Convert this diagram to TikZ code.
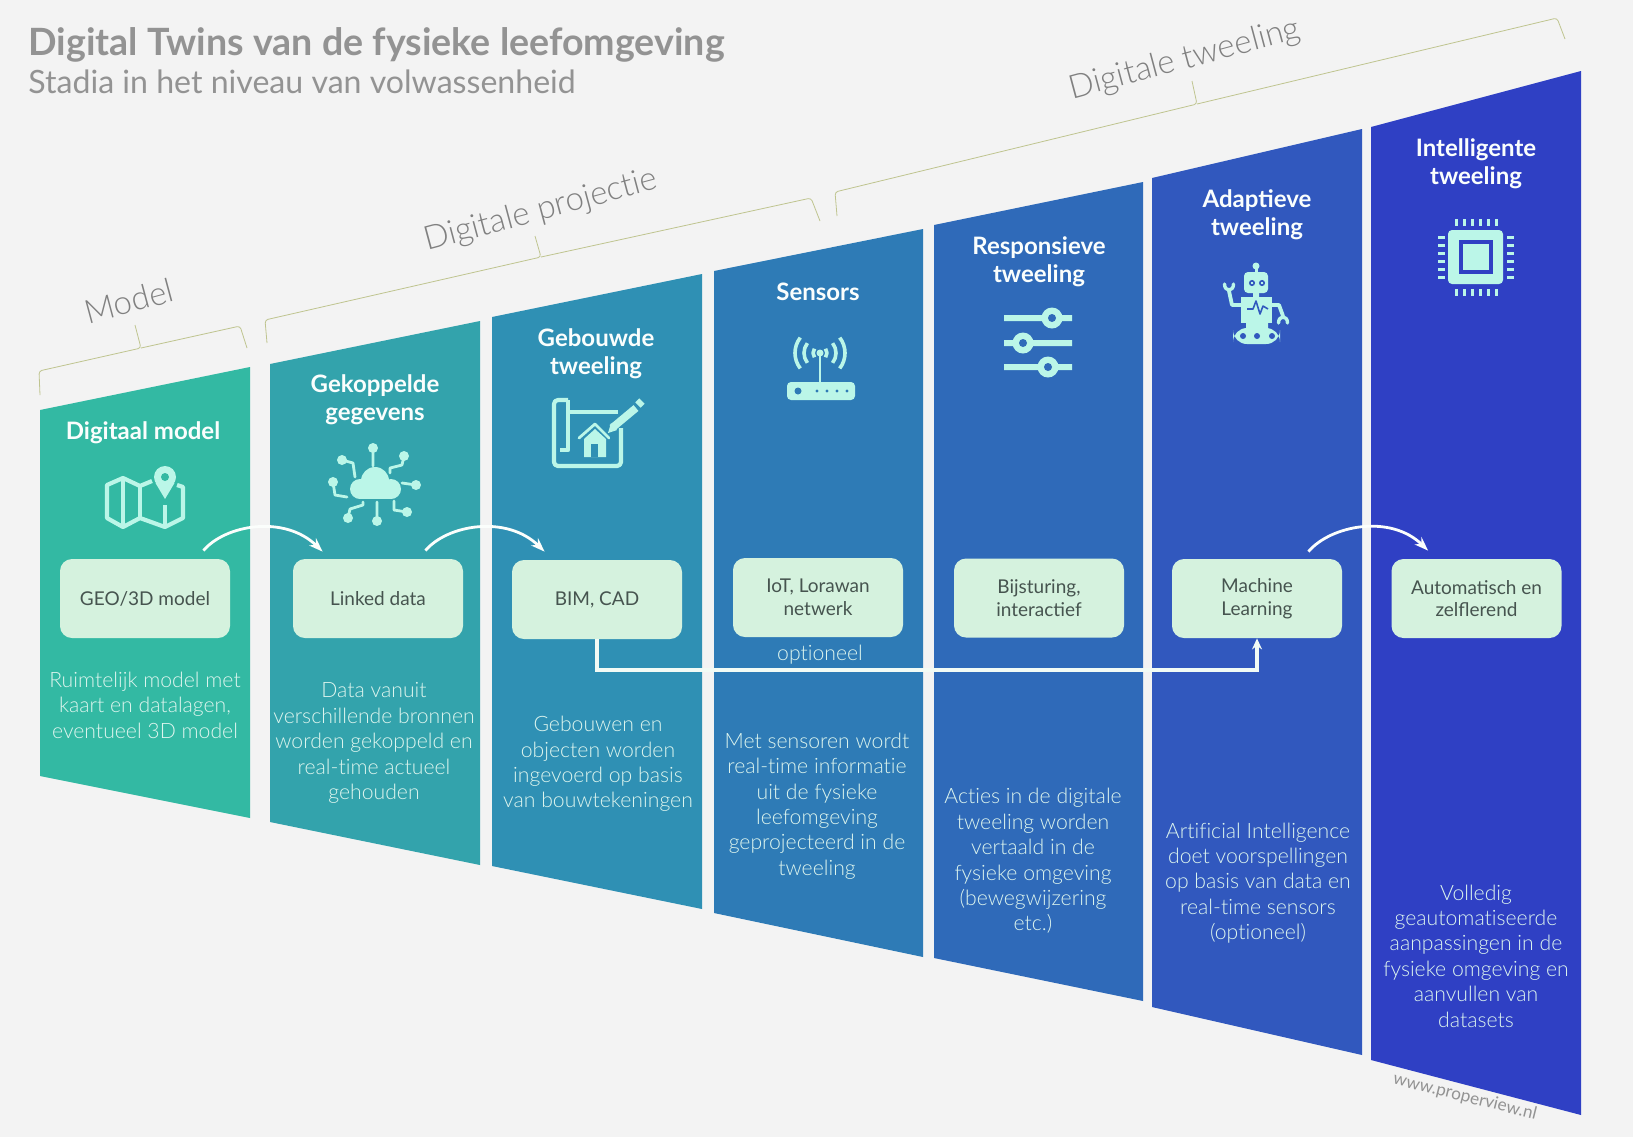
\documentclass[tikz,border=0pt]{standalone}
\usepackage{fontspec}
\setmainfont{Lato}
\newfontfamily\latolight{Lato Light}[Ligatures=NoCommon]
\usepackage{xcolor}
\definecolor{paper}{HTML}{F3F3F3}
\definecolor{twina}{HTML}{33B9A3}
\definecolor{twinb}{HTML}{33A3AC}
\definecolor{twinc}{HTML}{2F90B4}
\definecolor{twind}{HTML}{2E7BB6}
\definecolor{twine}{HTML}{2F6AB9}
\definecolor{twinf}{HTML}{3158BE}
\definecolor{twing}{HTML}{2F40C4}
\definecolor{boxmint}{HTML}{D5F2DE}
\definecolor{iconmint}{HTML}{BBF6E8}
\definecolor{bodytext}{HTML}{DDF5EE}
\definecolor{boxtext}{HTML}{46544F}
\definecolor{headgray}{HTML}{939393}
\definecolor{bracketline}{HTML}{BFC48F}
\usetikzlibrary{arrows.meta,positioning,calc}

\begin{document}
\begin{tikzpicture}[
        x=0.5pt, y=-0.5pt,
        stage/.style  = {font=\fontsize{12}{14}\selectfont\bfseries, text=white!92!iconmint, align=center, inner sep=0pt},
        tool/.style   = {fill=boxmint, rounded corners=6pt, minimum width=85pt, minimum height=39.5pt,
                         align=center, inner sep=0pt, text=boxtext, font=\fontsize{9.5}{11.3}\selectfont},
        blurb/.style  = {font=\latolight\fontsize{10.6}{12.7}\selectfont, text=bodytext, align=center, inner sep=0pt},
        phase/.style  = {font=\latolight\fontsize{16.5}{18}\selectfont, text=black!50, rotate=15, inner sep=0pt},
        bracket/.style = {draw=bracketline, line width=0.4pt, rounded corners=1.5pt},
        hop/.style    = {-{Stealth[length=7pt,width=5pt]}, draw=white!90!boxmint, line width=1.4pt},
        optlink/.style = {-{Stealth[length=5.5pt,width=5pt]}, draw=white!70!boxmint, line width=1.7pt},
        iconline/.style = {draw=iconmint, line width=2.1pt, line join=round},
        iconthin/.style = {draw=iconmint, line width=1.4pt, line cap=round, line join=round}
    ]
        \useasboundingbox (0,0) rectangle (1633,1137);
        \fill[paper] (0,0) rectangle (1633,1137);

        % ---- Title ----
        \node[anchor=base west, inner sep=0pt, text=headgray, font=\fontsize{18.8}{20}\selectfont\bfseries] (title) at (28,55) {Digital Twins van de fysieke leefomgeving};
        \node[anchor=base west, inner sep=0pt, text=headgray, font=\fontsize{16.05}{18}\selectfont] (subtitle) at (28,93) {Stadia in het niveau van volwassenheid};

        % ---- Columns ----
        \fill[twina] (40,410) -- (250,367) -- (250,818) -- (40,776) -- cycle;
        \fill[twinb] (270,364) -- (480,321) -- (480,865) -- (270,822) -- cycle;
        \fill[twinc] (492,317) -- (702,274) -- (702,909) -- (492,866) -- cycle;
        \fill[twind] (714,271) -- (923,229) -- (923,957) -- (714,913) -- cycle;
        \fill[twine] (934,225) -- (1143,182) -- (1143,1001) -- (934,958) -- cycle;
        \fill[twinf] (1152,178) -- (1362,129) -- (1362,1055) -- (1152,1007) -- cycle;
        \fill[twing] (1371,127) -- (1581,71) -- (1581,1115) -- (1371,1060) -- cycle;

        % ---- Brackets ----
        \draw[bracket] (40,395) -- (39,371) -- (141,348) -- (135,325);
        \draw[bracket] (141,348) -- (240,326) -- (247,348);
        \draw[bracket] (267,343) -- (265,320) -- (541,257) -- (535,236);
        \draw[bracket] (541,257) -- (811,198) -- (820,221);
        \draw[bracket] (837,216) -- (835,192) -- (1197,104) -- (1192,81);
        \draw[bracket] (1197,104) -- (1557,18) -- (1565,39);
        \node[phase] (pmodel) at (129,301) {Model};
        \node[phase] (pproj) at (541,211) {Digitale projectie};
        \node[phase] (ptwin) at (1185,60) {Digitale tweeling};

        % ---- Stages ----
        \node[stage] (s1) at (143,433) {Digitaal model};
        \node[stage] (s2) at (375,400) {Gekoppelde\\gegevens};
        \node[stage] (s3) at (596,354) {Gebouwde\\tweeling};
        \node[stage] (s4) at (818,292) {Sensors};
        \node[stage] (s5) at (1039,262) {Responsieve\\tweeling};
        \node[stage] (s6) at (1257,215) {Adaptieve\\tweeling};
        \node[stage] (s7) at (1476,164) {Intelligente\\tweeling};

        % ---- Tools ----
        \node[tool] (geo) at (145,598.5) {GEO/3D model};
        \node[tool] (linked) at (378,598.5) {Linked data};
        \node[tool] (bim) at (597,599.5) {BIM, CAD};
        \node[tool] (iot) at (818,597.5) {IoT, Lorawan\\netwerk};
        \node[tool] (bij) at (1039,598) {Bijsturing,\\interactief};
        \node[tool] (ml) at (1257,598.5) {Machine\\Learning};
        \node[tool] (auto) at (1476.5,598.5) {Automatisch en\\zelflerend};

        % ---- Descriptions ----
        \node[blurb] (d1) at (145,705) {Ruimtelijk model met\\kaart en datalagen,\\eventueel 3D model};
        \node[blurb] (d2) at (374,743) {Data vanuit\\verschillende bronnen\\worden gekoppeld en\\real-time actueel\\gehouden};
        \node[blurb] (d3) at (598,764) {Gebouwen en\\objecten worden\\ingevoerd op basis\\van bouwtekeningen};
        \node[blurb] (d4) at (817,806) {Met sensoren wordt\\real-time informatie\\uit de fysieke\\leefomgeving\\geprojecteerd in de\\tweeling};
        \node[blurb] (d5) at (1033,861) {Acties in de digitale\\tweeling worden\\vertaald in de\\fysieke omgeving\\(bewegwijzering\\etc.)};
        \node[blurb] (d6) at (1258,883) {Artificial Intelligence\\doet voorspellingen\\op basis van data en\\real-time sensors\\(optioneel)};
        \node[blurb] (d7) at (1476,956) {Volledig\\geautomatiseerde\\aanpassingen in de\\fysieke omgeving en\\aanvullen van\\datasets};
        \node[blurb] (opt) at (820,655) {optioneel};
        \node[font=\fontsize{8.6}{10}\selectfont, text=headgray, rotate=-14, inner sep=0pt] (www) at (1465,1097) {www.properview.nl};

        % ---- Links ----
        \draw[hop] ($(geo.north east)+(-27,-8)$) .. controls +(22,-26) and +(-38,-37) .. ($(linked.north west)+(30,-7)$);
        \draw[hop] ($(linked.north east)+(-38,-8)$) .. controls +(22,-26) and +(-38,-37) .. ($(bim.north west)+(33,-8)$);
        \draw[hop] ($(ml.north east)+(-34,-7)$) .. controls +(22,-26) and +(-38,-37) .. ($(auto.north west)+(37,-8)$);
        \coordinate (optbend) at (597,670);
        \draw[optlink] (bim.south) -- (bim.south |- optbend) -| (ml.south);

        % ---- Icon: map ----
        \draw[iconline] (152,481) -- (140,486) -- (123,478) -- (107,485) -- (107,518) -- (123,527) -- (140,518) -- (165,527) -- (183,518) -- (183,487) -- (177,485);
        \draw[iconline] (123,478) -- (123,527) (140,486) -- (140,518) (165,505) -- (165,527);
        \fill[iconmint] (165,477) circle (11);
        \fill[iconmint] (155.5,483) -- (174.5,483) -- (165,499) -- cycle;
        \fill[twina] (165,477) circle (4);

        % ---- Icon: cloud ----
        \fill[iconmint] (375,481) circle (14);
        \fill[iconmint] (360,489) circle (10);
        \fill[iconmint] (391,489) circle (10);
        \fill[iconmint] (360,484) rectangle (391,499);
        \draw[iconthin] (373,448) -- (373,466) (342,460) -- (353,463) -- (355,477);
        \draw[iconthin] (404,456) -- (402,465) -- (390,468) -- (390,473) (416,485) -- (402,483);
        \draw[iconthin] (407,512) -- (394,510) -- (394,501) (377,521) -- (377,502);
        \draw[iconthin] (348,518) -- (350,509) -- (363,505) -- (363,502) (333,482) -- (335,495) -- (347,497);
        \foreach \px/\py in {373/448, 342/460, 404/456, 416/485, 407/512, 377/521, 348/518, 333/482}
            \fill[iconmint] (\px,\py) circle (5);

        % ---- Icon: plan ----
        \draw[iconline] (568,400) -- (559,400) [rounded corners=2pt] -- (554,400) -- (554,466) -- (621,466) -- (621,428);
        \draw[iconline] (568,400) -- (568,450) -- (560,450);
        \draw[iconline] (568,412) -- (618,412);
        \draw[draw=iconmint, line width=3.8pt] (612,428) -- (636,408);
        \draw[draw=iconmint, line width=3.8pt] (638,405) -- (642,401);
        \fill[iconmint] (608,433) -- (611,423) -- (617,430) -- cycle;
        \draw[iconthin] (579,438) -- (595,424) -- (609,438);
        \fill[iconmint] (584,439) -- (595,429) -- (606,439) -- (606,457) -- (584,457) -- cycle;
        \fill[twinc] (591,444) rectangle (598,457);

        % ---- Icon: router ----
        \fill[iconmint, rounded corners=2pt] (787,382) rectangle (855,400);
        \fill[twind] (798,391) circle (3.5);
        \foreach \px in {817,827,837,847}
            \fill[twind] (\px,391) circle (1.6);
        \fill[iconmint] (820,353) circle (3.5);
        \draw[iconthin] (820,353) -- (820,382);
        \foreach \rr in {7,16,25} {
            \draw[iconline, line width=1.8pt] (820,353) ++(38:\rr) arc[start angle=38, end angle=-38, radius=\rr];
            \draw[iconline, line width=1.8pt] (820,353) ++(142:\rr) arc[start angle=142, end angle=218, radius=\rr];
        }

        % ---- Icon: sliders ----
        \fill[iconmint] (1004,315) rectangle (1072,321) (1004,340) rectangle (1072,346) (1004,364) rectangle (1072,370);
        \foreach \px/\py in {1052/318, 1023/343, 1048/367} {
            \fill[iconmint] (\px,\py) circle (10.5);
            \fill[twine] (\px,\py) circle (4);
        }

        % ---- Icon: robot ----
        \fill[iconmint] (1256,266) circle (3.5);
        \fill[iconmint] (1254.5,266) rectangle (1257.5,273);
        \fill[iconmint, rounded corners=2pt] (1244,272) rectangle (1268,293);
        \draw[draw=twinf, line width=0.8pt] (1252,283) circle (2.2) (1262,283) circle (2.2);
        \fill[iconmint] (1253,293) rectangle (1259,298) (1246,323) rectangle (1268,329);
        \fill[iconmint] (1241,297) rectangle (1272,323);
        \draw[draw=twinf, line width=0.8pt, line join=round] (1247,309) -- (1253,309) -- (1256,301) -- (1260,314) -- (1263,306) -- (1268,309);
        \fill[iconmint, rounded corners=7pt] (1233,328) rectangle (1280,344);
        \foreach \px in {1243,1257,1272}
            \fill[twinf] (\px,336) circle (3);
        \draw[iconthin, line width=1.9pt] (1241,305) -- (1232,305) -- (1229,291) (1272,305) -- (1279,305) -- (1283,316);
        \draw[iconthin, line width=1.7pt] (1224.5,284) .. controls (1224.5,292) and (1233.5,292) .. (1233.5,284);
        \draw[iconthin, line width=1.7pt] (1278.5,323) .. controls (1278.5,315) and (1287.5,315) .. (1287.5,323);

        % ---- Icon: chip ----
        \fill[iconmint, rounded corners=2pt] (1448,230) rectangle (1503,284);
        \draw[draw=twing, line width=2.3pt] (1461,242) rectangle (1491,272);
        \foreach \pk in {0,...,5} {
            \fill[iconmint] ({1454.5+8*\pk},219) rectangle ({1458+8*\pk},226);
            \fill[iconmint] ({1454.5+8*\pk},289) rectangle ({1458+8*\pk},296);
            \fill[iconmint] (1438,{235.5+8*\pk}) rectangle (1445,{239+8*\pk});
            \fill[iconmint] (1507,{235.5+8*\pk}) rectangle (1514,{239+8*\pk});
        }
    \end{tikzpicture}
\end{document}
